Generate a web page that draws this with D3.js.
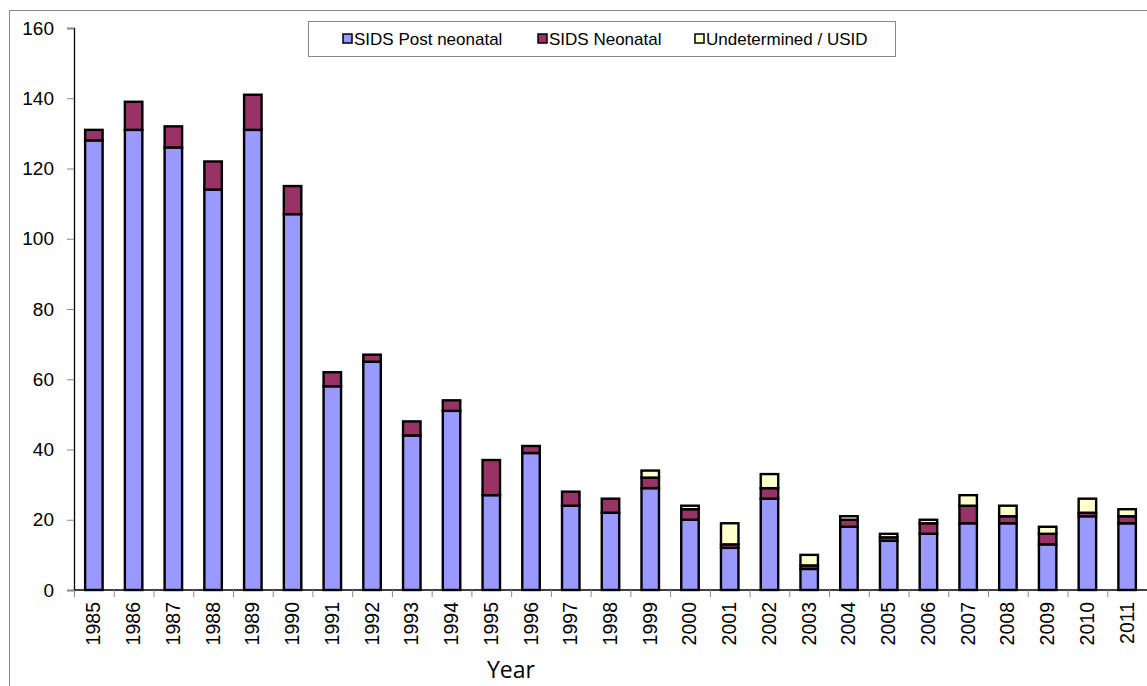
<!DOCTYPE html>
<html>
<head>
<meta charset="utf-8">
<script src="https://cdn.jsdelivr.net/npm/d3@7"></script>
<style>
  body { margin: 0; background: #fff; }
  svg { display: block; font-family: "Liberation Sans", Arial, sans-serif; }
</style>
</head>
<body>
<div id="chart"></div>
<script>
// data
const years = ["1985","1986","1987","1988","1989","1990","1991","1992","1993","1994","1995","1996","1997","1998","1999","2000","2001","2002","2003","2004","2005","2006","2007","2008","2009","2010","2011"];
const postNeonatal = [128,131,126,114,131,107,58,65,44,51,27,39,24,22,29,20,12,26,6,18,14,16,19,19,13,21,19];
const neonatal     = [3,8,6,8,10,8,4,2,4,3,10,2,4,4,3,3,1,3,1,2,1,3,5,2,3,1,2];
const undetermined = [0,0,0,0,0,0,0,0,0,0,0,0,0,0,2,1,6,4,3,1,1,1,3,3,2,4,2];
const seriesNames = ["SIDS Post neonatal", "SIDS Neonatal", "Undetermined / USID"];
const yTicks = [0,20,40,60,80,100,120,140,160];

const W = 1147, H = 686;
const margin = {top: 28, right: 0, bottom: 96, left: 74};

const svg = d3.select("#chart").append("svg")
    .attr("width", W)
    .attr("height", H);

// outer chart frame
svg.append("rect")
    .attr("x", 9.5).attr("y", 10.5)
    .attr("width", W + 20).attr("height", H + 20)
    .attr("fill", "none")
    .attr("stroke", "#888");

const x = d3.scaleBand()
    .domain(years)
    .range([margin.left, W - margin.right])
    .padding(0);

const y = d3.scaleLinear()
    .domain([0, 160])
    .range([H - margin.bottom, margin.top]);

const color = d3.scaleOrdinal()
    .domain(seriesNames)
    .range(["#9999FF", "#993366", "#FFFFCC"]);

const table = years.map((yr, i) => ({
  year: yr,
  "SIDS Post neonatal": postNeonatal[i],
  "SIDS Neonatal": neonatal[i],
  "Undetermined / USID": undetermined[i]
}));
const stacked = d3.stack().keys(seriesNames)(table);

const barW = x.bandwidth() * 0.44;

// bars
svg.append("g")
  .selectAll("g")
  .data(stacked)
  .join("g")
    .attr("fill", d => color(d.key))
  .selectAll("rect")
  .data(d => d.filter(s => s[1] - s[0] > 0))
  .join("rect")
    .attr("x", d => x(d.data.year) + (x.bandwidth() - barW) / 2)
    .attr("y", d => y(d[1]))
    .attr("width", barW)
    .attr("height", d => y(d[0]) - y(d[1]))
    .attr("stroke", "#000")
    .attr("stroke-width", 2.4);

// y axis
const yAxis = svg.append("g")
    .attr("transform", `translate(${margin.left},0)`)
    .call(d3.axisLeft(y).tickValues(yTicks).tickSize(7).tickPadding(13));
yAxis.select(".domain").attr("stroke", "#000").attr("stroke-width", 1.3);
yAxis.selectAll(".tick line").attr("stroke", "#888");
yAxis.selectAll("text")
    .style("font-size", "19px")
    .attr("fill", "#000");

// x axis with ticks at band boundaries
const xg = svg.append("g")
    .attr("transform", `translate(0,${y(0)})`);
xg.append("line")
    .attr("x1", margin.left).attr("x2", W)
    .attr("stroke", "#000").attr("stroke-width", 1.3);
xg.selectAll("line.tk")
  .data(years)
  .join("line")
    .attr("class", "tk")
    .attr("x1", d => x(d) + 0.5).attr("x2", d => x(d) + 0.5)
    .attr("y1", 0).attr("y2", 7)
    .attr("stroke", "#888");
xg.selectAll("text")
  .data(years)
  .join("text")
    .attr("transform", d => `translate(${x(d) + x.bandwidth() / 2 + 6.5},12) rotate(-90)`)
    .attr("text-anchor", "end")
    .style("font-size", "19.5px")
    .text(d => d);

// axis title
svg.append("text")
    .attr("x", 511)
    .attr("y", 678)
    .attr("text-anchor", "middle")
    .style("font-family", "'Open Sans', sans-serif")
    .style("font-size", "23px")
    .text("Year");

// legend
const lg = svg.append("g");
lg.append("rect")
    .attr("x", 308.5).attr("y", 21.5)
    .attr("width", 587).attr("height", 35)
    .attr("fill", "#fff").attr("stroke", "#888");
const legendX = [343, 538, 695];
const items = lg.selectAll("g")
  .data(seriesNames)
  .join("g")
    .attr("transform", (d, i) => `translate(${legendX[i]},39)`);
items.append("rect")
    .attr("x", 0).attr("y", -5)
    .attr("width", 9).attr("height", 9)
    .attr("fill", d => color(d))
    .attr("stroke", "#000").attr("stroke-width", 1.5);
items.append("text")
    .attr("x", 11).attr("y", 6)
    .style("font-size", "17px")
    .text(d => d);
</script>
</body>
</html>
